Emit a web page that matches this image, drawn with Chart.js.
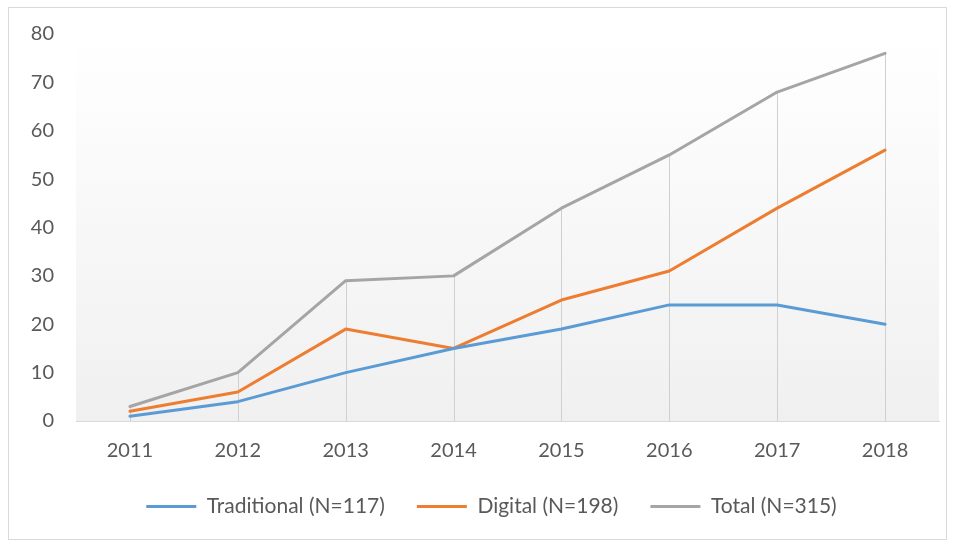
<!DOCTYPE html>
<html lang="en">
<head>
<meta charset="UTF-8">
<title>Traditional vs Digital</title>
<script src="https://cdn.jsdelivr.net/npm/chart.js"></script>
<style>
    body {
        margin: 0;
        background: #fff;
    }
    .wrap {
        position: absolute;
        left: 0;
        top: 0;
        width: 955px;
        height: 544px;
    }
    .frame {
        position: absolute;
        left: 8px;
        top: 7px;
        width: 937px;
        height: 531px;
        border: 1px solid #d9d9d9;
        pointer-events: none;
    }
</style>
</head>
<body>
<div class="wrap">
    <canvas id="myChart" width="955" height="544"></canvas>
    <div class="frame"></div>
</div>
<script>
    // data
    const years = ['2011', '2012', '2013', '2014', '2015', '2016', '2017', '2018'];
    const traditional = [1, 4, 10, 15, 19, 24, 24, 20];
    const digital = [2, 6, 19, 15, 25, 31, 44, 56];
    const total = [3, 10, 29, 30, 44, 55, 68, 76];
    const seriesNames = ['Traditional (N=117)', 'Digital (N=198)', 'Total (N=315)'];

    const FONT = 'Lato, "Open Sans", sans-serif';

    // plot area gradient + drop lines (like Excel)
    const plotDecor = {
        id: 'plotDecor',
        afterLayout(chart) {
            // nudge the legend: a bit right and up, closer to the axis labels
            const lg = chart.legend;
            lg.left += 44;
            lg.top -= 17;
            lg.bottom -= 17;
        },
        beforeDatasetsDraw(chart) {
            const {ctx, chartArea, scales} = chart;
            ctx.save();
            const g = ctx.createLinearGradient(0, chartArea.top, 0, chartArea.bottom);
            g.addColorStop(0, '#ffffff');
            g.addColorStop(1, '#f0f0f0');
            ctx.fillStyle = g;
            ctx.fillRect(chartArea.left, chartArea.top, chartArea.right - chartArea.left, chartArea.bottom - chartArea.top);

            // drop lines from the highest point to the axis
            ctx.strokeStyle = '#d0d0d0';
            ctx.lineWidth = 1;
            years.forEach((y, i) => {
                const top = Math.max(traditional[i], digital[i], total[i]);
                const x = Math.round(scales.x.getPixelForValue(i)) + 0.5;
                ctx.beginPath();
                ctx.moveTo(x, scales.y.getPixelForValue(top));
                ctx.lineTo(x, scales.y.getPixelForValue(0));
                ctx.stroke();
            });
            ctx.restore();
        }
    };

    const ctx = document.getElementById('myChart').getContext('2d');
    const chart = new Chart(ctx, {
        type: 'line',
        data: {
            labels: years,
            datasets: [
                {label: seriesNames[0], data: traditional, borderColor: '#5b9bd5', backgroundColor: '#5b9bd5', pointBorderWidth: 3},
                {label: seriesNames[1], data: digital, borderColor: '#ed7d31', backgroundColor: '#ed7d31', pointBorderWidth: 3},
                {label: seriesNames[2], data: total, borderColor: '#a5a5a5', backgroundColor: '#a5a5a5', pointBorderWidth: 3}
            ]
        },
        options: {
            responsive: false,
            animation: false,
            elements: {
                line: {borderWidth: 3, tension: 0, borderCapStyle: 'round', borderJoinStyle: 'round'},
                point: {radius: 0}
            },
            layout: {
                padding: {left: 0, right: 16, top: 30, bottom: 0}
            },
            scales: {
                x: {
                    offset: true,
                    grid: {display: false, drawTicks: false},
                    border: {display: true, color: '#d9d9d9', width: 1},
                    ticks: {color: '#595959', font: {family: FONT, size: 20}, padding: 18}
                },
                y: {
                    min: 0,
                    max: 80,
                    afterFit(scale) { scale.width = 76; },
                    grid: {display: false, drawTicks: false},
                    border: {display: false},
                    ticks: {stepSize: 10, color: '#595959', font: {family: FONT, size: 20}, padding: 22}
                }
            },
            plugins: {
                legend: {
                    position: 'bottom',
                    labels: {
                        usePointStyle: true,
                        pointStyle: 'line',
                        pointStyleWidth: 50,
                        boxHeight: 3,
                        padding: 32,
                        color: '#595959',
                        font: {family: FONT, size: 21}
                    }
                },
                tooltip: {enabled: false}
            }
        },
        plugins: [plotDecor]
    });
</script>
</body>
</html>
